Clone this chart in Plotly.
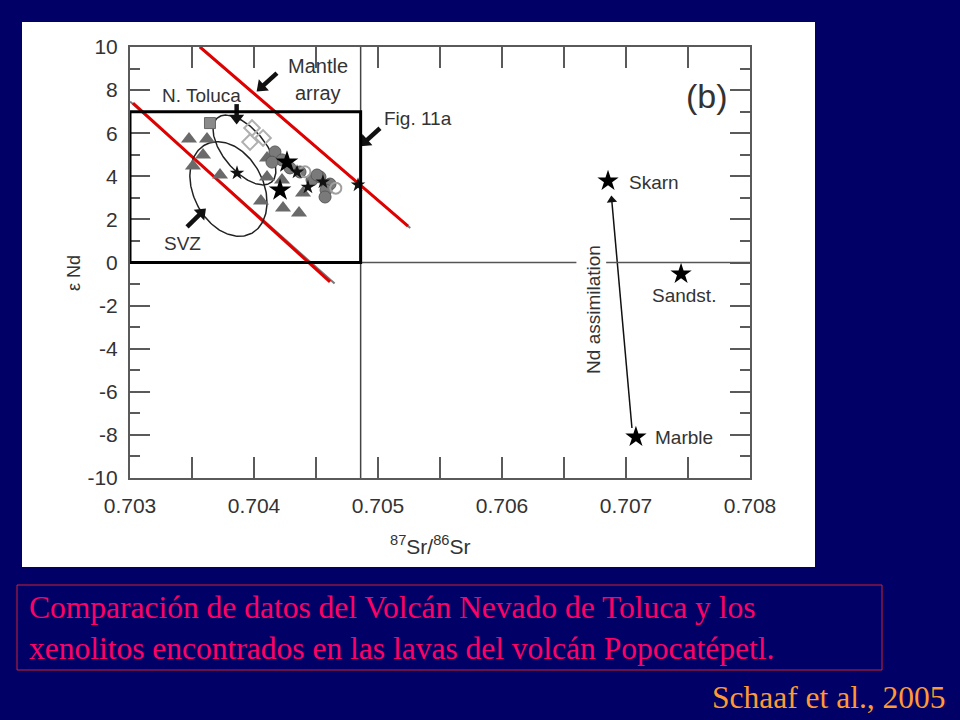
import numpy as np
import plotly.graph_objects as go

# ---------------- data ----------------
tri_x = [0.703476, 0.703621, 0.703589, 0.703508, 0.703726, 0.704105, 0.704105,
         0.704056, 0.704234, 0.704363, 0.704395, 0.704226]
tri_y = [5.73, 5.73, 4.99, 4.48, 4.06, 4.85, 3.97, 2.85, 2.53, 2.30, 3.23, 3.83]

circ_x = [0.704169, 0.704226, 0.704145, 0.704290, 0.704371, 0.704468, 0.704532,
          0.704613, 0.704581, 0.704573, 0.704508]
circ_y = [5.13, 4.76, 4.66, 4.39, 4.20, 3.83, 3.97, 3.64, 3.36, 3.04, 4.06]

odia_x = [0.703984, 0.704073, 0.703968]
odia_y = [6.24, 5.78, 5.59]

ocirc_x = [0.704411, 0.704660]
ocirc_y = [4.21, 3.45]

sq_x = [0.703645]
sq_y = [6.47]

star_big_x = [0.704266, 0.704210]
star_big_y = [4.66, 3.36]
star_small_x = [0.704347, 0.704435, 0.704556, 0.704839, 0.703863]
star_small_y = [4.20, 3.50, 3.74, 3.60, 4.15]

xeno_names = ["Skarn", "Sandst.", "Marble"]
xeno_x = [0.706855, 0.707444, 0.707080]
xeno_y = [3.78, -0.53, -8.10]

# mantle array lines (red) and underlying original lines (gray)
mantle_upper_x = [0.703565, 0.705242]
mantle_upper_y = [10.0, 1.69]
mantle_lower_x = [0.703024, 0.704613]
mantle_lower_y = [7.40, -0.90]
orig_upper_x = [0.703560, 0.705260]
orig_upper_y = [10.0, 1.60]
orig_lower_x = [0.703000, 0.704650]
orig_lower_y = [7.47, -0.98]

# Fig. 11a box
box_x = [0.703, 0.70486]
box_y = [0.0, 7.0]
vline_x = 0.70486
zero_segments = [(0.70486, 0.70660), (0.70684, 0.708)]

# ellipses: centre (data), semi-axes (px), tilt (deg, screen)
ellipses = {
    "SVZ": dict(cx=0.703794, cy=3.41, a=50, b=35, ang=63),
    "NToluca": dict(cx=0.703923, cy=5.22, a=42, b=21, ang=50),
}

# pointer arrows: (tail_x, tail_y, head_x, head_y)
pointer_arrows = [
    (0.704185, 8.79, 0.704060, 8.14),   # Mantle array
    (0.703460, 1.65, 0.703575, 2.30),   # SVZ
    (0.705016, 6.23, 0.704895, 5.60),   # Fig. 11a
    (0.703860, 7.35, 0.703860, 6.70),   # N. Toluca
]
assim_arrow = (0.707048, -7.68, 0.706885, 2.90)

# axes
x_range = [0.703, 0.708]
y_range = [-10, 10]
x_ticks = [0.703, 0.704, 0.705, 0.706, 0.707, 0.708]
x_ticklabels = ["0.703", "0.704", "0.705", "0.706", "0.707", "0.708"]
y_ticks = [10, 8, 6, 4, 2, 0, -2, -4, -6, -8, -10]
y_ticklabels = ["10", "8", "6", "4", "2", "0", "-2", "-4", "-6", "-8", "-10"]

# ---------------- layout geometry ----------------
W, H = 960, 720
ML, MR, MT, MB = 130, 210, 47, 242
PW, PH = W - ML - MR, H - MT - MB
px_per_x = PW / (x_range[1] - x_range[0])
px_per_y = PH / (y_range[1] - y_range[0])


def px2paper(px, py):
    return (px - ML) / PW, (H - MB - py) / PH


fig = go.Figure()

AX = "#5a5a5a"
TXT = "#333333"

for xs, ys in [(orig_upper_x, orig_upper_y), (orig_lower_x, orig_lower_y)]:
    fig.add_trace(go.Scatter(x=xs, y=ys, mode="lines", line=dict(color="#777777", width=2),
                             hoverinfo="skip", showlegend=False))
for xs, ys in [(mantle_upper_x, mantle_upper_y), (mantle_lower_x, mantle_lower_y)]:
    fig.add_trace(go.Scatter(x=xs, y=ys, mode="lines", line=dict(color="#e00000", width=3),
                             hoverinfo="skip", showlegend=False))

t = np.linspace(0, 2 * np.pi, 200)
for name, e in ellipses.items():
    th = np.deg2rad(e["ang"])
    dx = e["a"] * np.cos(t) * np.cos(th) - e["b"] * np.sin(t) * np.sin(th)
    dy = e["a"] * np.cos(t) * np.sin(th) + e["b"] * np.sin(t) * np.cos(th)
    fig.add_trace(go.Scatter(x=e["cx"] + dx / px_per_x, y=e["cy"] - dy / px_per_y,
                             mode="lines", line=dict(color="#222222", width=1.5),
                             hoverinfo="skip", showlegend=False))

fig.add_trace(go.Scatter(x=tri_x, y=tri_y, mode="markers",
                         marker=dict(symbol="triangle-up", size=14, color="#6a6a6a"),
                         showlegend=False))
fig.add_trace(go.Scatter(x=circ_x, y=circ_y, mode="markers",
                         marker=dict(symbol="circle", size=12, color="#7a7a7a",
                                     line=dict(color="#5a5a5a", width=1)),
                         showlegend=False))
fig.add_trace(go.Scatter(x=odia_x, y=odia_y, mode="markers",
                         marker=dict(symbol="diamond-open", size=12, color="#b0b0b0",
                                     line=dict(width=2)), showlegend=False))
fig.add_trace(go.Scatter(x=ocirc_x, y=ocirc_y, mode="markers",
                         marker=dict(symbol="circle-open", size=11, color="#a0a0a0",
                                     line=dict(width=2)), showlegend=False))
fig.add_trace(go.Scatter(x=sq_x, y=sq_y, mode="markers",
                         marker=dict(symbol="square", size=11, color="#8a8a8a",
                                     line=dict(color="#666666", width=1)), showlegend=False))
fig.add_trace(go.Scatter(x=star_small_x, y=star_small_y, mode="markers",
                         marker=dict(symbol="star", size=11, color="#111111"),
                         showlegend=False))
fig.add_trace(go.Scatter(x=star_big_x, y=star_big_y, mode="markers",
                         marker=dict(symbol="star", size=17, color="#000000"),
                         showlegend=False))
fig.add_trace(go.Scatter(x=xeno_x, y=xeno_y, mode="markers",
                         marker=dict(symbol="star", size=16, color="#000000"),
                         showlegend=False))


def draw_arrow(tx, ty, hx, hy, lw, head):
    dxp = (hx - tx) * px_per_x
    dyp = -(hy - ty) * px_per_y
    ang = float(np.degrees(np.arctan2(dxp, -dyp)))
    fig.add_trace(go.Scatter(x=[tx, hx], y=[ty, hy], mode="lines",
                             line=dict(color="#111111", width=lw),
                             hoverinfo="skip", showlegend=False))
    fig.add_trace(go.Scatter(x=[hx], y=[hy], mode="markers",
                             marker=dict(symbol="triangle-up", size=head, angle=ang,
                                         color="#111111"),
                             hoverinfo="skip", showlegend=False))


for a in pointer_arrows:
    draw_arrow(*a, lw=4.5, head=13)
draw_arrow(*assim_arrow, lw=1.5, head=9)

# ---------------- shapes ----------------
shapes = []
x0p, y0p = px2paper(22, 567)
x1p, y1p = px2paper(815, 22)
shapes.append(dict(type="rect", xref="paper", yref="paper", x0=x0p, y0=y0p, x1=x1p, y1=y1p,
                   fillcolor="white", line=dict(width=0), layer="below"))
x0p, y0p = px2paper(17, 670)
x1p, y1p = px2paper(882, 585)
shapes.append(dict(type="rect", xref="paper", yref="paper", x0=x0p, y0=y0p, x1=x1p, y1=y1p,
                   fillcolor="rgba(0,0,0,0)", line=dict(color="#d02030", width=1)))
shapes.append(dict(type="line", xref="x", yref="y", x0=vline_x, x1=vline_x,
                   y0=y_range[0], y1=y_range[1], line=dict(color="#444444", width=1.5)))
for a, b in zero_segments:
    shapes.append(dict(type="line", xref="x", yref="y", x0=a, x1=b, y0=0, y1=0,
                       line=dict(color="#555555", width=1.5)))
shapes.append(dict(type="rect", xref="x", yref="y", x0=box_x[0], x1=box_x[1],
                   y0=box_y[0], y1=box_y[1], line=dict(color="#000000", width=3)))

# ---------------- annotations ----------------
ann = []
LF = "Liberation Sans, Arial, sans-serif"
SF = "Liberation Serif, Times New Roman, serif"


def txt(x, y, s, size=19, xanchor="center", **kw):
    d = dict(x=x, y=y, xref="x", yref="y", text=s, showarrow=False,
             xanchor=xanchor, yanchor="middle",
             font=dict(family=LF, size=size, color=TXT))
    d.update(kw)
    ann.append(d)


txt(0.704516, 9.12, "Mantle", 20)
txt(0.704516, 7.87, "array", 20)
txt(0.703580, 7.77, "N. Toluca", 19)
txt(0.705323, 6.70, "Fig. 11a", 19)
txt(0.703420, 0.86, "SVZ", 19)
txt(0.707653, 7.73, "(b)", 34)
txt(xeno_x[0] + 0.000153, xeno_y[0] - 0.09, xeno_names[0], 19, xanchor="left")
txt(xeno_x[1] + 0.000024, xeno_y[1] - 0.98, xeno_names[1], 19)
txt(xeno_x[2] + 0.000138, xeno_y[2], xeno_names[2], 19, xanchor="left")
txt(0.706742, -2.2, "Nd assimilation", 19, textangle=-90)


def paper_txt(px, py, s, font, xanchor="center", **kw):
    xp, yp = px2paper(px, py)
    d = dict(x=xp, y=yp, xref="paper", yref="paper", showarrow=False, text=s,
             xanchor=xanchor, yanchor="middle", font=font)
    d.update(kw)
    ann.append(d)


paper_txt(430, 545, "<sup>87</sup>Sr/<sup>86</sup>Sr", dict(family=LF, size=21, color=TXT))
paper_txt(74, 273, "ε Nd", dict(family=LF, size=18, color=TXT), textangle=-90)
paper_txt(27, 628,
          "Comparación de datos del Volcán Nevado de Toluca y los<br>"
          "xenolitos encontrados en las lavas del volcán Popocatépetl.",
          dict(family=SF, size=31.5, color="#ff0066"), xanchor="left", align="left")
paper_txt(948, 697, "Schaaf et al., 2005", dict(family=SF, size=31.5, color="#ff9933"),
          xanchor="right")

fig.update_layout(
    width=W, height=H, autosize=False,
    margin=dict(l=ML, r=MR, t=MT, b=MB, pad=0),
    paper_bgcolor="#000066", plot_bgcolor="white",
    shapes=shapes, annotations=ann, showlegend=False,
    xaxis=dict(range=x_range, tickvals=x_ticks, ticktext=x_ticklabels, ticks="inside",
               ticklen=21, tickwidth=2, tickcolor=AX, showline=True, linecolor=AX,
               linewidth=2, mirror="allticks", showgrid=False, zeroline=False,
               tickfont=dict(family=LF, size=21, color=TXT), ticklabelstandoff=8,
               minor=dict(dtick=0.0005, tick0=0.703, ticks="inside", ticklen=21,
                          tickwidth=2, tickcolor=AX, showgrid=False)),
    yaxis=dict(range=y_range, tickvals=y_ticks, ticktext=y_ticklabels, ticks="inside",
               ticklen=20, tickwidth=2, tickcolor=AX, showline=True, linecolor=AX,
               linewidth=2, mirror="allticks", showgrid=False, zeroline=False,
               tickfont=dict(family=LF, size=21, color=TXT), ticklabelstandoff=6,
               minor=dict(dtick=1, tick0=0, ticks="inside", ticklen=10, tickwidth=2,
                          tickcolor=AX, showgrid=False)),
)

fig.write_html("out.html", config={"displayModeBar": False},
               post_script="document.body.style.margin='0';"
                           "document.body.style.background='#000066';")
